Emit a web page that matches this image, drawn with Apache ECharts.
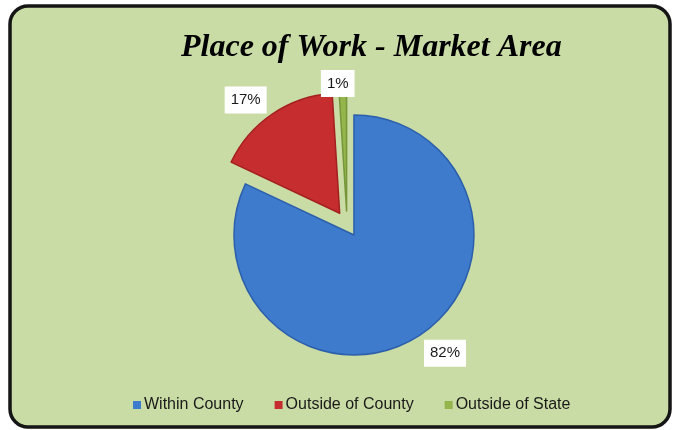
<!DOCTYPE html>
<html><head><meta charset="utf-8">
<script src="https://cdn.jsdelivr.net/npm/echarts@6/dist/echarts.min.js"></script>
<style>html,body{margin:0;padding:0;background:#fff}#c{width:673px;height:430px}</style>
</head><body><div id="c"></div>
<script>
var categories = ['Within County', 'Outside of County', 'Outside of State'];
var values = [82, 17, 1];
var colorsInner = ['#3f7bcc', '#c62d2f', '#93b54c'];
var colorsOuter = ['#2c5fab', '#a31f21', '#76963a'];
var labelLen = [20, 17, 7.5];
var labelDist = [-5, -4, -12];

var chart = echarts.init(document.getElementById('c'), null, {renderer: 'canvas'});
var data = categories.map(function (n, i) {
  return {
    name: n, value: values[i], selected: true,
    itemStyle: { color: colorsInner[i], borderColor: colorsOuter[i], borderWidth: 1.5 },
    labelLine: { show: false, length: labelLen[i], length2: 0 },
    label: { distanceToLabelLine: labelDist[i] }
  };
});
chart.setOption({
  backgroundColor: '#ffffff',
  animation: false,
  graphic: [{
    type: 'rect', z: -10, silent: true,
    shape: { x: 10, y: 6, width: 660, height: 421, r: 18 },
    style: { fill: '#cadca5', stroke: '#151515', lineWidth: 3.5 }
  }],
  title: {
    text: 'Place of Work - Market Area', left: 176, top: 27,
    textStyle: { fontFamily: 'Liberation Serif', fontWeight: 'bold', fontStyle: 'italic', fontSize: 32, color: '#000' }
  },
  legend: {
    data: categories, bottom: 12, left: 128, itemWidth: 8, itemHeight: 8, itemGap: 31,
    icon: 'rect', itemStyle: { borderWidth: 0 },
    textStyle: { fontFamily: 'Liberation Sans', fontSize: 16, color: '#1a1a1a', padding: [0, 0, 0, -2] }
  },
  color: colorsInner,
  series: [{
    type: 'pie', center: [347, 224], radius: 120, startAngle: 90, clockwise: true,
    selectedMode: 'multiple', selectedOffset: 13, avoidLabelOverlap: false,
    label: {
      show: true, position: 'outside', formatter: '{d}%',
      fontFamily: 'Liberation Sans', fontSize: 15, color: '#1a1a1a', lineHeight: 15,
      backgroundColor: '#ffffff', padding: [6, 6, 6, 6]
    },
    emphasis: { disabled: true },
    data: data
  }]
});
</script></body></html>
